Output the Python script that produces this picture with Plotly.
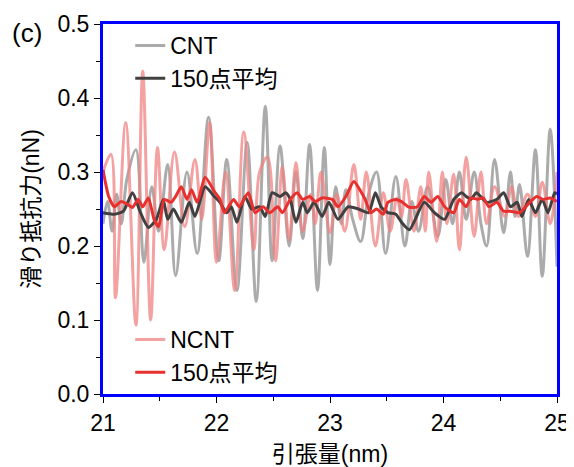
import plotly.graph_objects as go

# CNT raw (extrema)
cnt_x = [21.00, 21.04, 21.08, 21.12, 21.16, 21.21, 21.29, 21.36, 21.43, 21.49, 21.57, 21.64, 21.74,
         21.83, 21.93, 22.02, 22.09, 22.18, 22.27, 22.35, 22.43, 22.49, 22.56, 22.64, 22.70, 22.76,
         22.82, 22.89, 22.95, 23.00, 23.05, 23.10, 23.14, 23.20, 23.27, 23.34, 23.41, 23.49, 23.58,
         23.66, 23.72, 23.78, 23.86, 23.95, 24.02, 24.08, 24.14, 24.20, 24.27, 24.33, 24.38, 24.45,
         24.53, 24.59, 24.63, 24.67, 24.74, 24.81, 24.87, 24.94, 25.00]
cnt_y = [0.23, 0.26, 0.22, 0.27, 0.23, 0.29, 0.33, 0.178, 0.28, 0.22, 0.31, 0.16, 0.30,
         0.19, 0.374, 0.18, 0.317, 0.14, 0.34, 0.125, 0.389, 0.18, 0.335, 0.20, 0.30, 0.21,
         0.337, 0.14, 0.333, 0.175, 0.28, 0.23, 0.276, 0.236, 0.206, 0.27, 0.30, 0.19, 0.294,
         0.20, 0.26, 0.22, 0.28, 0.213, 0.29, 0.23, 0.30, 0.236, 0.30, 0.23, 0.20, 0.317,
         0.218, 0.30, 0.24, 0.283, 0.186, 0.33, 0.159, 0.358, 0.172]

# NCNT raw
ncnt_x = [21.00, 21.07, 21.11, 21.20, 21.29, 21.35, 21.42, 21.48, 21.54, 21.63, 21.72, 21.81, 21.87,
          21.94, 22.00, 22.08, 22.16, 22.24, 22.33, 22.38, 22.45, 22.52, 22.58, 22.64, 22.70, 22.76,
          22.83, 22.87, 22.92, 23.00, 23.06, 23.13, 23.21, 23.27, 23.32, 23.40, 23.47, 23.53, 23.59,
          23.63, 23.67, 23.74, 23.80, 23.84, 23.87, 23.94, 23.99, 24.03, 24.09, 24.14, 24.20, 24.27,
          24.33, 24.38, 24.45, 24.54, 24.60, 24.66, 24.74, 24.81, 24.87, 24.94, 25.00]
ncnt_y = [0.30, 0.324, 0.13, 0.367, 0.093, 0.436, 0.10, 0.333, 0.195, 0.327, 0.226, 0.317, 0.236,
          0.367, 0.178, 0.30, 0.14, 0.354, 0.195, 0.30, 0.32, 0.18, 0.307, 0.208, 0.313, 0.22,
          0.27, 0.23, 0.30, 0.218, 0.27, 0.22, 0.31, 0.236, 0.30, 0.20, 0.272, 0.22, 0.265,
          0.24, 0.29, 0.22, 0.28, 0.22, 0.30, 0.206, 0.30, 0.23, 0.297, 0.195, 0.32, 0.213,
          0.30, 0.23, 0.28, 0.24, 0.28, 0.24, 0.27, 0.24, 0.286, 0.23, 0.30]

# CNT 150-point average
cnt_avg_x = [21.00, 21.10, 21.18, 21.26, 21.33, 21.40, 21.47, 21.53, 21.57, 21.62, 21.69, 21.76, 21.81,
             21.90, 21.98, 22.03, 22.09, 22.13, 22.18, 22.25, 22.31, 22.38, 22.43, 22.49, 22.56, 22.61,
             22.65, 22.70, 22.76, 22.80, 22.86, 22.93, 22.99, 23.07, 23.16, 23.25, 23.34, 23.40, 23.45,
             23.51, 23.58, 23.63, 23.70, 23.83, 23.92, 24.01, 24.09, 24.16, 24.20, 24.24, 24.29, 24.38,
             24.47, 24.53, 24.59, 24.65, 24.69, 24.75, 24.81, 24.87, 24.92, 24.98, 25.00]
cnt_avg_y = [0.245, 0.243, 0.247, 0.272, 0.245, 0.225, 0.236, 0.263, 0.236, 0.25, 0.232, 0.259, 0.24,
             0.28, 0.267, 0.259, 0.245, 0.253, 0.232, 0.267, 0.25, 0.253, 0.24, 0.272, 0.267, 0.272,
             0.263, 0.232, 0.259, 0.245, 0.259, 0.24, 0.259, 0.236, 0.253, 0.25, 0.245, 0.272, 0.253,
             0.245, 0.243, 0.232, 0.222, 0.259, 0.245, 0.236, 0.263, 0.272, 0.267, 0.263, 0.272, 0.259,
             0.263, 0.272, 0.253, 0.259, 0.24, 0.263, 0.245, 0.263, 0.245, 0.272, 0.27]

# NCNT 150-point average
ncnt_avg_x = [21.00, 21.05, 21.10, 21.16, 21.22, 21.26, 21.31, 21.35, 21.40, 21.45, 21.49, 21.54, 21.60,
              21.64, 21.69, 21.74, 21.78, 21.83, 21.90, 21.98, 22.03, 22.07, 22.15, 22.20, 22.28, 22.34,
              22.41, 22.47, 22.54, 22.58, 22.65, 22.71, 22.76, 22.82, 22.87, 22.93, 23.02, 23.07, 23.14,
              23.21, 23.27, 23.31, 23.36, 23.41, 23.47, 23.51, 23.58, 23.63, 23.69, 23.72, 23.77, 23.83,
              23.89, 23.95, 24.01, 24.09, 24.14, 24.20, 24.24, 24.30, 24.35, 24.40, 24.47, 24.53, 24.59,
              24.67, 24.76, 24.82, 24.88, 24.94, 25.00]
ncnt_avg_y = [0.303, 0.267, 0.253, 0.26, 0.256, 0.252, 0.263, 0.253, 0.265, 0.236, 0.226, 0.263, 0.259,
              0.267, 0.28, 0.263, 0.276, 0.259, 0.293, 0.274, 0.263, 0.245, 0.263, 0.253, 0.272, 0.245,
              0.253, 0.245, 0.253, 0.245, 0.263, 0.272, 0.263, 0.267, 0.26, 0.265, 0.263, 0.253, 0.267,
              0.287, 0.274, 0.263, 0.245, 0.25, 0.243, 0.259, 0.263, 0.26, 0.253, 0.252, 0.253, 0.267,
              0.259, 0.267, 0.253, 0.245, 0.263, 0.253, 0.265, 0.263, 0.265, 0.253, 0.259, 0.247, 0.247,
              0.245, 0.259, 0.267, 0.263, 0.265, 0.26]

x_ticks = [21, 22, 23, 24, 25]
y_ticks = [0.0, 0.1, 0.2, 0.3, 0.4, 0.5]
y_tick_labels = ["0.0", "0.1", "0.2", "0.3", "0.4", "0.5"]

FONT = "Liberation Sans, Arial, Noto Sans CJK JP, sans-serif"

fig = go.Figure()
fig.add_trace(go.Scatter(x=cnt_x, y=cnt_y, mode="lines", name="CNT",
                         line=dict(color="rgba(150,150,150,0.8)", width=3, shape="spline", smoothing=1),
                         legend="legend"))
fig.add_trace(go.Scatter(x=ncnt_x, y=ncnt_y, mode="lines", name="NCNT",
                         line=dict(color="rgba(240,130,130,0.75)", width=3, shape="spline", smoothing=1),
                         legend="legend2"))
fig.add_trace(go.Scatter(x=cnt_avg_x, y=cnt_avg_y, mode="lines", name="150点平均",
                         line=dict(color="#404040", width=3, shape="spline", smoothing=0.6),
                         legend="legend"))
fig.add_trace(go.Scatter(x=ncnt_avg_x, y=ncnt_avg_y, mode="lines", name="150点平均",
                         line=dict(color="#e8302e", width=3, shape="spline", smoothing=0.6),
                         legend="legend2"))

# page body adds an 8px offset; figure sized so the plot area lands at x 103-557, y 24-394
fig.update_layout(
    width=566, height=459,
    margin=dict(l=95, r=17, t=16, b=73),
    paper_bgcolor="white", plot_bgcolor="white",
    font=dict(family=FONT, size=23, color="black"),
    showlegend=True,
    legend=dict(x=0.06, y=1.0, xanchor="left", yanchor="top", bgcolor="rgba(0,0,0,0)",
                font=dict(size=23, family=FONT), tracegroupgap=0, traceorder="normal"),
    legend2=dict(x=0.06, y=0.0, xanchor="left", yanchor="bottom", bgcolor="rgba(0,0,0,0)",
                 font=dict(size=23, family=FONT), tracegroupgap=0, traceorder="normal"),
    xaxis=dict(range=[21, 25], tickvals=x_ticks, ticktext=[str(v) for v in x_ticks],
               showgrid=False, zeroline=False, showline=True, linecolor="blue", linewidth=3,
               mirror=True, ticks="outside", ticklen=6, tickcolor="black", tickwidth=1,
               minor=dict(ticks="outside", ticklen=4, tickcolor="black", dtick=0.5),
               title=dict(text="引張量(nm)", font=dict(size=23, family=FONT), standoff=14),
               tickfont=dict(size=23), automargin=False),
    yaxis=dict(range=[0, 0.5], tickvals=y_ticks, ticktext=y_tick_labels,
               showgrid=False, zeroline=False, showline=True, linecolor="blue", linewidth=3,
               mirror=True, ticks="outside", ticklen=6, tickcolor="black", tickwidth=1,
               minor=dict(ticks="outside", ticklen=4, tickcolor="black", dtick=0.05),
               title=dict(text="滑り抵抗力(nN)", font=dict(size=23, family=FONT), standoff=12),
               tickfont=dict(size=23), automargin=False),
    annotations=[dict(text="(c)", x=-0.205, y=0.975, xref="paper", yref="paper",
                      xanchor="left", yanchor="middle", showarrow=False, font=dict(size=26))],
)

fig.write_html("out.html")
